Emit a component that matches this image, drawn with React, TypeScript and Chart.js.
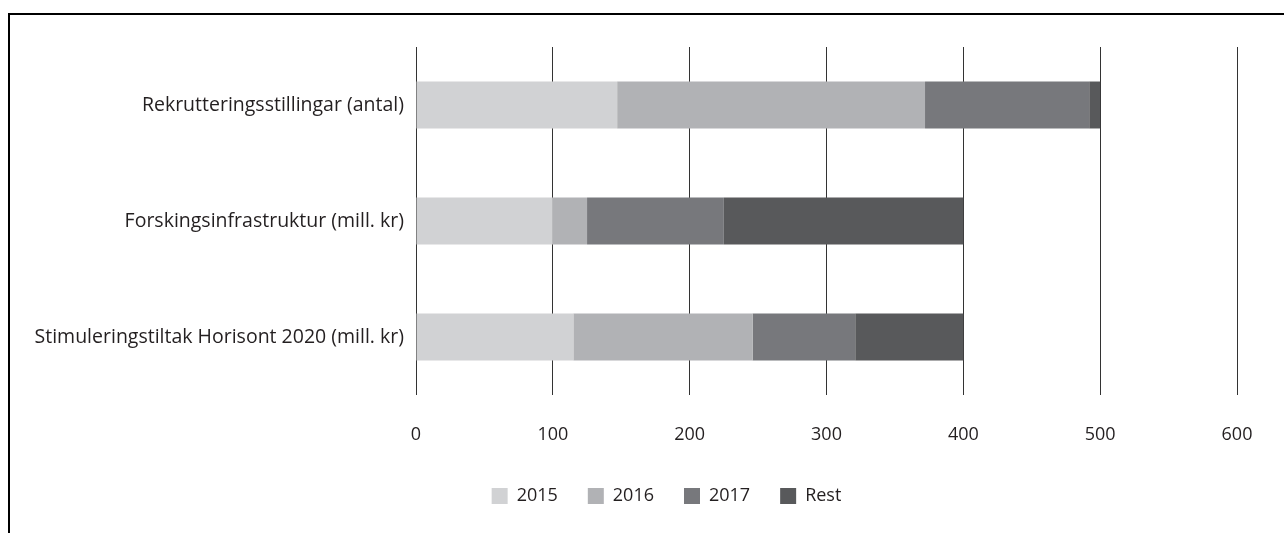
import React, { useEffect, useRef } from "react";
import { Chart, registerables } from "chart.js";

Chart.register(...registerables);

const categories = [
  "Rekrutteringsstillingar (antal)",
  "Forskingsinfrastruktur (mill. kr)",
  "Stimuleringstiltak Horisont 2020 (mill. kr)",
];
const seriesLabels = ["2015", "2016", "2017", "Rest"];
const values2015 = [147, 100, 115];
const values2016 = [225, 25, 131];
const values2017 = [120, 100, 75];
const valuesRest = [8, 175, 79];
const seriesColors = ["#d1d2d4", "#b1b2b5", "#77787c", "#58595b"];
const xTicks = [0, 100, 200, 300, 400, 500, 600];

const FONT = "'Open Sans', sans-serif";
const TEXT = "#231f20";

const legendShift = {
  id: "legendShift",
  afterLayout(chart: any) {
    const l = chart.legend;
    if (l) {
      const w = l.right - l.left;
      l.left = 86;
      l.right = 86 + w - 66;
    }
  },
};

export default function App() {
  const ref = useRef<HTMLCanvasElement>(null);
  useEffect(() => {
    if (!ref.current) return;
    const series = [values2015, values2016, values2017, valuesRest];
    const chart = new Chart(ref.current, {
      type: "bar",
      data: {
        labels: categories,
        datasets: series.map((d, i) => ({
          label: seriesLabels[i],
          data: d,
          backgroundColor: seriesColors[i],
          borderWidth: 0,
          categoryPercentage: 0.81,
          barPercentage: 0.5,
        })),
      },
      options: {
        indexAxis: "y",
        responsive: false,
        animation: false,
        devicePixelRatio: 1,
        layout: { padding: { left: 20, right: 47, top: 32, bottom: 18 } },
        scales: {
          x: {
            stacked: true,
            min: 0,
            max: 600,
            afterBuildTicks: (s: any) => {
              s.ticks = xTicks.map((v) => ({ value: v }));
            },
            afterFit: (s: any) => {
              s.height = 62;
            },
            grid: { color: "#333333", lineWidth: 1, drawTicks: false },
            border: { display: false },
            ticks: {
              padding: 29,
              color: TEXT,
              font: { family: FONT, size: 18 },
            },
          },
          y: {
            stacked: true,
            afterFit: (s: any) => {
              s.width = 386;
            },
            grid: { display: false, drawTicks: false },
            border: { display: false },
            ticks: {
              padding: 12,
              color: TEXT,
              font: { family: FONT, size: 19.5 },
            },
          },
        },
        plugins: {
          legend: {
            position: "bottom",
            labels: {
              boxWidth: 16,
              boxHeight: 16,
              padding: 30,
              color: TEXT,
              font: { family: FONT, size: 18 },
            },
          },
          tooltip: { enabled: false },
        },
      },
      plugins: [legendShift],
    });
    return () => chart.destroy();
  }, []);

  return (
    <div
      style={{
        position: "fixed",
        left: 8,
        top: 13,
        width: 1276,
        height: 520,
        boxSizing: "border-box",
        borderTop: "2px solid #000",
        borderLeft: "2px solid #000",
        background: "#fff",
      }}
    >
      <canvas
        ref={ref}
        width={1274}
        height={518}
        style={{ position: "absolute", left: 0, top: 0, width: 1274, height: 518 }}
      />
    </div>
  );
}
